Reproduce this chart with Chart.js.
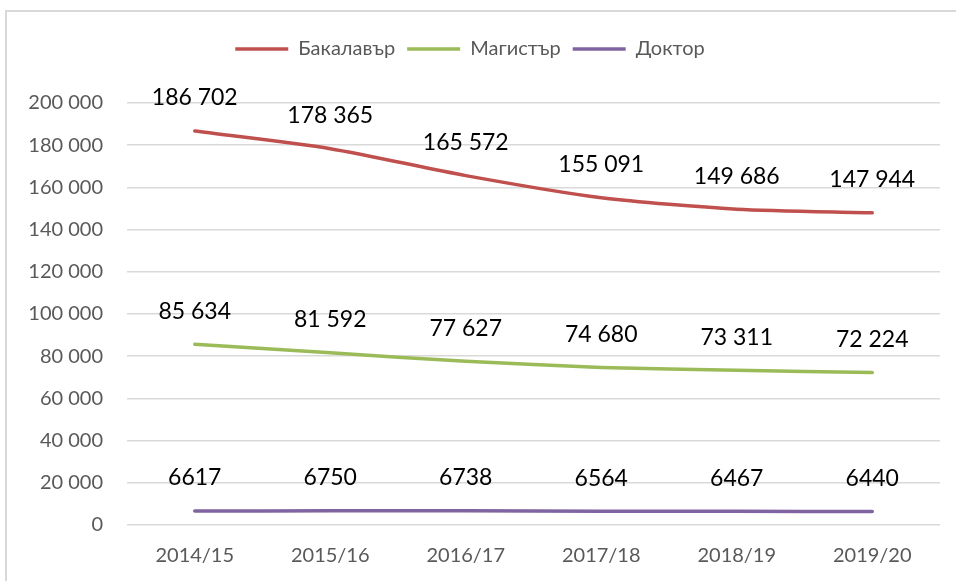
<!DOCTYPE html>
<html>
<head>
<meta charset="utf-8">
<script src="https://cdn.jsdelivr.net/npm/chart.js@4"></script>
<style>
  html, body { margin: 0; padding: 0; background: #fff; }
  #wrap { position: relative; width: 956px; height: 581px; overflow: hidden; }
  #frame { position: absolute; left: 5px; top: 10px; width: 1000px; height: 1000px;
           border: 2px solid #d9d9d9; box-sizing: border-box; }
  canvas { position: absolute; left: 0; top: 0; }
</style>
</head>
<body>
<div id="wrap">
  <div id="frame"></div>
  <canvas id="chart" width="956" height="581"></canvas>
</div>
<script>
const years = ["2014/15", "2015/16", "2016/17", "2017/18", "2018/19", "2019/20"];
const bachelor = [186702, 178365, 165572, 155091, 149686, 147944];
const master = [85634, 81592, 77627, 74680, 73311, 72224];
const doctor = [6617, 6750, 6738, 6564, 6467, 6440];

const FONT = "Lato, 'Open Sans', sans-serif";

function spaced(v) {
  return String(v).replace(/\B(?=(\d{3})+(?!\d))/g, " ");
}

// labels above each point
const pointLabels = {
  id: "pointLabels",
  afterDatasetsDraw(chart) {
    const ctx = chart.ctx;
    ctx.save();
    ctx.font = "23px " + FONT;
    ctx.fillStyle = "#000";
    ctx.textAlign = "center";
    ctx.textBaseline = "middle";
    chart.data.datasets.forEach((ds, i) => {
      chart.getDatasetMeta(i).data.forEach((pt, j) => {
        const v = ds.data[j];
        const txt = v >= 10000 ? spaced(v) : String(v);
        ctx.fillText(txt, pt.x, pt.y - 33);
      });
    });
    ctx.restore();
  }
};

// push the plot down below the legend
const legendGap = {
  id: "legendGap",
  beforeInit(chart) {
    const fit = chart.legend.fit;
    chart.legend.fit = function () {
      fit.bind(chart.legend)();
      this.height += 34;
    };
  }
};

new Chart(document.getElementById("chart"), {
  type: "line",
  data: {
    labels: years,
    datasets: [
      { label: "Бакалавър", data: bachelor, borderColor: "#c0504d", backgroundColor: "#c0504d", borderWidth: 3.5 },
      { label: "Магистър", data: master, borderColor: "#9bbb59", backgroundColor: "#9bbb59", borderWidth: 3.5 },
      { label: "Доктор", data: doctor, borderColor: "#8064a2", backgroundColor: "#8064a2", borderWidth: 3.5 }
    ]
  },
  options: {
    responsive: false,
    animation: false,
    devicePixelRatio: 1,
    layout: { padding: { top: 27, left: 0, right: 16, bottom: 0 } },
    elements: {
      line: { tension: 0.25, borderCapStyle: "round" },
      point: { radius: 0, hoverRadius: 0 }
    },
    plugins: {
      tooltip: { enabled: false },
      legend: {
        position: "top",
        labels: {
          color: "#595959",
          font: { family: FONT, size: 20 },
          usePointStyle: true,
          pointStyle: "line",
          pointStyleWidth: 53,
          padding: 12,
          boxHeight: 20
        }
      }
    },
    scales: {
      x: {
        offset: true,
        grid: { display: false },
        border: { display: false },
        ticks: { color: "#595959", font: { family: FONT, size: 20 }, padding: 11 },
        afterFit(scale) { scale.height = 56; }
      },
      y: {
        min: 0,
        max: 200000,
        grid: { color: "#d9d9d9", lineWidth: 1.5, drawTicks: false },
        border: { display: false },
        ticks: {
          stepSize: 20000,
          color: "#595959",
          font: { family: FONT, size: 20 },
          padding: 24,
          callback: v => spaced(v)
        },
        afterFit(scale) { scale.width = 127; }
      }
    }
  },
  plugins: [pointLabels, legendGap]
});
</script>
</body>
</html>
